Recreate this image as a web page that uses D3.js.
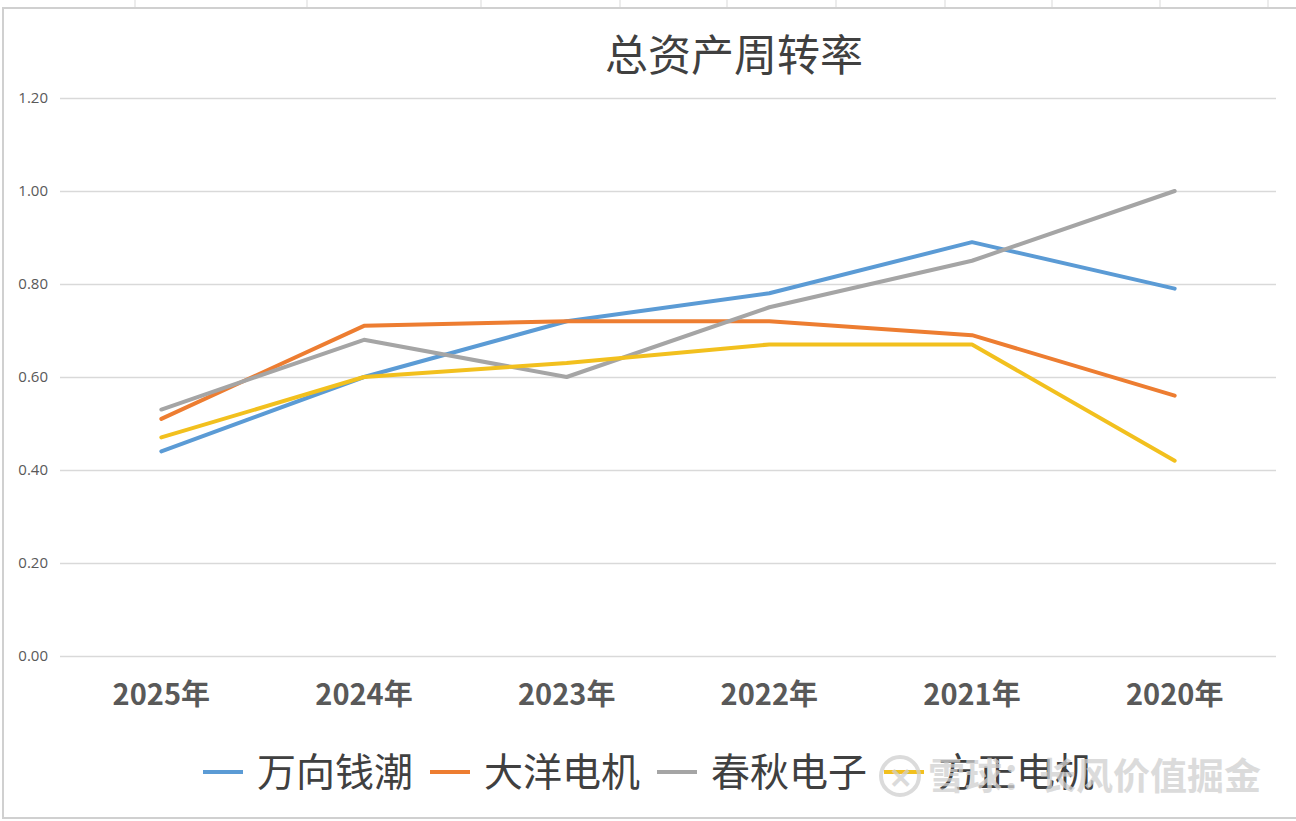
<!DOCTYPE html>
<html>
<head>
<meta charset="utf-8">
<script src="https://cdn.jsdelivr.net/npm/d3@7"></script>
<style>
  body { margin: 0; background: #fff; }
  svg { display: block; }
</style>
</head>
<body>
<div id="chart"></div>
<script>
// data
const years = ['2025年', '2024年', '2023年', '2022年', '2021年', '2020年'];
const yTicks = [0, 0.2, 0.4, 0.6, 0.8, 1.0, 1.2];
const wanxiang = [0.44, 0.60, 0.72, 0.78, 0.89, 0.79];
const dayang = [0.51, 0.71, 0.72, 0.72, 0.69, 0.56];
const chunqiu = [0.53, 0.68, 0.60, 0.75, 0.85, 1.00];
const fangzheng = [0.47, 0.60, 0.63, 0.67, 0.67, 0.42];

const series = [
  {name: '万向钱潮', values: wanxiang, color: '#5B9BD5'},
  {name: '大洋电机', values: dayang, color: '#ED7D31'},
  {name: '春秋电子', values: chunqiu, color: '#A5A5A5'},
  {name: '方正电机', values: fangzheng, color: '#F2C01E'}
];

const W = 1296, H = 821;
const margin = {top: 98, right: 20, bottom: 165, left: 60};
const width = W - margin.left - margin.right;
const height = H - margin.top - margin.bottom;

const svg = d3.select('#chart').append('svg')
  .attr('width', W)
  .attr('height', H);

// spreadsheet cells peeking out around the chart
const cellX = [135, 307, 481, 620, 727, 836, 945, 1052, 1160, 1268];
svg.selectAll('.cell')
  .data(cellX)
  .enter().append('line')
  .attr('x1', d => d).attr('x2', d => d)
  .attr('y1', 0).attr('y2', 8)
  .attr('stroke', '#d9d9d9');

// chart frame
svg.append('rect')
  .attr('x', 3).attr('y', 8)
  .attr('width', W + 10).attr('height', 810)
  .attr('fill', '#fff')
  .attr('stroke', '#d0d0d0')
  .attr('stroke-width', 2);

const g = svg.append('g')
  .attr('transform', 'translate(' + margin.left + ',' + margin.top + ')');

const x = d3.scaleBand().domain(years).range([0, width]);
const y = d3.scaleLinear().domain([0, 1.2]).range([height, 0]);

// gridlines
g.append('g')
  .call(d3.axisLeft(y).tickValues(yTicks).tickSize(-width).tickFormat(''))
  .call(a => a.select('.domain').remove())
  .call(a => a.selectAll('line').attr('stroke', '#d9d9d9').attr('stroke-width', 1.3));

// y axis labels
g.append('g')
  .call(d3.axisLeft(y).tickValues(yTicks).tickSize(0).tickPadding(12).tickFormat(d3.format('.2f')))
  .call(a => a.select('.domain').remove())
  .call(a => a.selectAll('text')
    .attr('fill', '#595959')
    .style('font-family', '"Open Sans", "Noto Sans", sans-serif')
    .style('font-size', '15px'));

// x axis labels
g.append('g')
  .attr('transform', 'translate(0,' + height + ')')
  .call(d3.axisBottom(x).tickSize(0).tickPadding(28))
  .call(a => a.select('.domain').remove())
  .call(a => a.selectAll('text')
    .attr('fill', '#595959')
    .style('font-family', '"Noto Sans CJK SC", sans-serif')
    .style('font-weight', 'bold')
    .style('font-size', '29px'));

// the lines
const line = d3.line()
  .x((d, i) => x(years[i]) + x.bandwidth() / 2)
  .y(d => y(d));

g.selectAll('.series')
  .data(series)
  .enter().append('path')
  .attr('class', 'series')
  .attr('d', d => line(d.values))
  .attr('fill', 'none')
  .attr('stroke', d => d.color)
  .attr('stroke-width', 4)
  .attr('stroke-linejoin', 'round')
  .attr('stroke-linecap', 'round');

// title
svg.append('text')
  .attr('x', 734).attr('y', 71)
  .attr('text-anchor', 'middle')
  .attr('fill', '#404040')
  .style('font-family', '"Noto Sans CJK SC", sans-serif')
  .style('font-size', '43px')
  .text('总资产周转率');

// legend
const legendX = [203, 430, 657, 884];
const legend = svg.selectAll('.legend')
  .data(series)
  .enter().append('g')
  .attr('transform', (d, i) => 'translate(' + legendX[i] + ',772)');

legend.append('line')
  .attr('x1', 0).attr('x2', 40)
  .attr('stroke', d => d.color)
  .attr('stroke-width', 4);

legend.append('text')
  .attr('x', 54).attr('y', 14)
  .attr('fill', '#404040')
  .style('font-family', '"Noto Sans CJK SC", sans-serif')
  .style('font-size', '39px')
  .text(d => d.name);

// watermark
const wm = svg.append('g').attr('opacity', 0.75);
wm.append('circle')
  .attr('cx', 900).attr('cy', 776).attr('r', 19)
  .attr('fill', 'none').attr('stroke', '#d0d0d0').attr('stroke-width', 4);
wm.append('text')
  .attr('x', 900).attr('y', 788)
  .attr('text-anchor', 'middle')
  .attr('fill', '#d0d0d0')
  .style('font-family', '"Noto Sans CJK SC", sans-serif')
  .style('font-weight', 'bold')
  .style('font-size', '28px')
  .text('✕');
wm.append('text')
  .attr('x', 928).attr('y', 790)
  .attr('fill', '#d0d0d0')
  .style('font-family', '"Noto Sans CJK SC", sans-serif')
  .style('font-weight', 'bold')
  .style('font-size', '37px')
  .text('雪球：长风价值掘金');
</script>
</body>
</html>
